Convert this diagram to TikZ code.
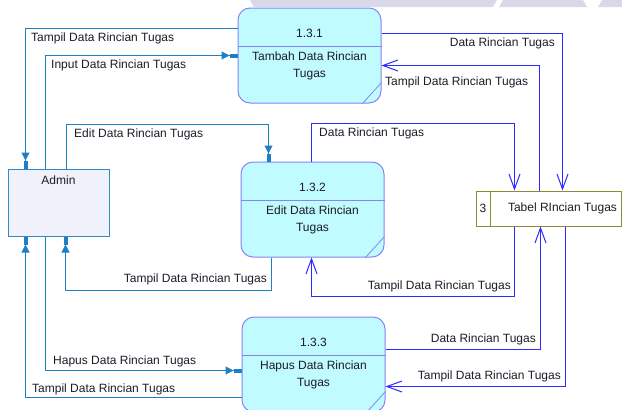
\documentclass[tikz,border=0pt]{standalone}
\usepackage{fontspec}
\setmainfont{Liberation Sans}
\usetikzlibrary{arrows.meta,calc}

\definecolor{admline}{HTML}{1E80C4}
\definecolor{storeline}{HTML}{2B2BFF}
\definecolor{procfill}{HTML}{C0FBFF}
\definecolor{procdraw}{HTML}{8585F5}
\definecolor{entfill}{HTML}{F1F1FB}
\definecolor{entdraw}{HTML}{2F8AC8}
\definecolor{storedraw}{HTML}{8C8C2E}
\definecolor{txt}{HTML}{1C1C28}
\definecolor{wmark}{HTML}{D8D8E8}

\begin{document}
\begin{tikzpicture}[x=1pt,y=-1pt,
  font=\fontsize{12}{14}\selectfont, text=txt,
  proc/.style={draw=procdraw, fill=procfill, rounded corners=12pt,
    minimum width=143pt, minimum height=95pt, inner sep=0pt, line width=1pt},
  ent/.style={draw=entdraw, fill=entfill, minimum width=101pt,
    minimum height=67pt, inner sep=0pt, line width=1pt},
  store/.style={draw=storedraw, fill=white, minimum width=145pt,
    minimum height=35pt, inner sep=0pt, line width=1pt},
  ptext/.style={inner sep=0pt, align=center, font=\fontsize{12}{17}\selectfont},
  lbl/.style={inner sep=0pt},
  adm/.style={draw=admline, line width=1pt,
    -{Triangle[length=8pt,width=8pt]Rectangle[length=8pt,width=4pt]}},
  sto/.style={draw=storeline, line width=1pt,
    -{Straight Barb[length=15pt,width=11pt]}},
  divline/.style={draw=procdraw, line width=0.8pt}]

\useasboundingbox (0,0) rectangle (622,410);

% faint band along the top edge
\fill[wmark] (250,0) -- (497,0) -- (493,7) -- (254,7) -- cycle;
\fill[wmark] (503,0) -- (583,0) -- (587,7) -- (499,7) -- cycle;
\fill[wmark] (602,0) -- (622,0) -- (622,7) -- (598,7) -- cycle;

% external entity
\node[ent] (adm) at (58.5,202.5) {};
\node[lbl] (admt) at ([yshift=-12pt]adm.north) {Admin};

% processes
\node[proc] (p1) at (309.5,55.5) {};
\node[proc] (p2) at (312.5,209.5) {};
\node[proc] (p3) at (313.5,364.5) {};
\foreach \p/\num/\name in {p1/1.3.1/Tambah Data Rincian,
                           p2/1.3.2/Edit Data Rincian,
                           p3/1.3.3/Hapus Data Rincian}{
  \draw[divline] ([yshift=-38.5pt]\p.north west) -- ([yshift=-38.5pt]\p.north east);
  \draw[divline] ([xshift=-19pt]\p.south east) -- ([yshift=21pt]\p.south east);
  \node[ptext] (\p n) at ([yshift=-26pt]\p.north) {\num};
  \node[ptext] (\p t) at ([yshift=-58.5pt]\p.north) {\name\\Tugas};
}

% data store
\node[store] (st) at (548.5,208.5) {};
\draw[draw=storedraw, line width=1pt] ([xshift=15pt]st.north west) -- ([xshift=15pt]st.south west);
\node[lbl] (stn) at ([xshift=7.5pt]st.west) {3};
\node[lbl] (stt) at ([xshift=87pt]st.west) {Tabel RIncian Tugas};

% flows between Admin and the processes
\draw[adm] ([yshift=-21pt]p1.north west) -| ([xshift=18pt]adm.north west);
\draw[adm] ([xshift=38pt]adm.north west) |- ([yshift=-48pt]p1.north west);
\draw[adm] ([xshift=59pt]adm.north west) |- ([xshift=28pt,yshift=37pt]p2.north west)
  -- ([xshift=28pt]p2.north west);
\draw[adm] ([xshift=31pt]p2.south west) -- ([xshift=31pt,yshift=-33pt]p2.south west)
  -| ([xshift=58pt]adm.south west);
\draw[adm] ([xshift=38pt]adm.south west) |- ([yshift=-54pt]p3.north west);
\draw[adm] ([yshift=-81pt]p3.north west) -| ([xshift=18pt]adm.south west);

% flows between the processes and the store
\draw[sto] ([yshift=-26pt]p1.north east) -| ([xshift=87pt]st.north west);
\draw[sto] ([xshift=64pt]st.north west) |- ([yshift=-58pt]p1.north east);
\draw[sto] ([xshift=71pt]p2.north west) -- ([xshift=71pt,yshift=38pt]p2.north west)
  -| ([xshift=39pt]st.north west);
\draw[sto] ([xshift=39pt]st.south west) |- ([xshift=71pt,yshift=-39pt]p2.south west)
  -- ([xshift=71pt]p2.south west);
\draw[sto] ([yshift=-33pt]p3.north east) -| ([xshift=65pt]st.south west);
\draw[sto] ([xshift=90pt]st.south west) |- ([yshift=-70pt]p3.north east);

% flow labels
\node[lbl, anchor=west] (l1) at (31,38) {Tampil Data Rincian Tugas};
\node[lbl, anchor=west] (l2) at (51,65) {Input Data Rincian Tugas};
\node[lbl, anchor=west] (l3) at (74,134) {Edit Data Rincian Tugas};
\node[lbl, anchor=east] (l4) at (267,279) {Tampil Data Rincian Tugas};
\node[lbl, anchor=west] (l5) at (53,361) {Hapus Data Rincian Tugas};
\node[lbl, anchor=west] (l6) at (32,389) {Tampil Data Rincian Tugas};
\node[lbl, anchor=east] (l7) at (555,43) {Data Rincian Tugas};
\node[lbl, anchor=west] (l8) at (385,82) {Tampil Data Rincian Tugas};
\node[lbl, anchor=west] (l9) at (319,133) {Data Rincian Tugas};
\node[lbl, anchor=east] (l10) at (511,286) {Tampil Data Rincian Tugas};
\node[lbl, anchor=east] (l11) at (536,339) {Data Rincian Tugas};
\node[lbl, anchor=east] (l12) at (561,376) {Tampil Data Rincian Tugas};

\end{tikzpicture}
\end{document}
